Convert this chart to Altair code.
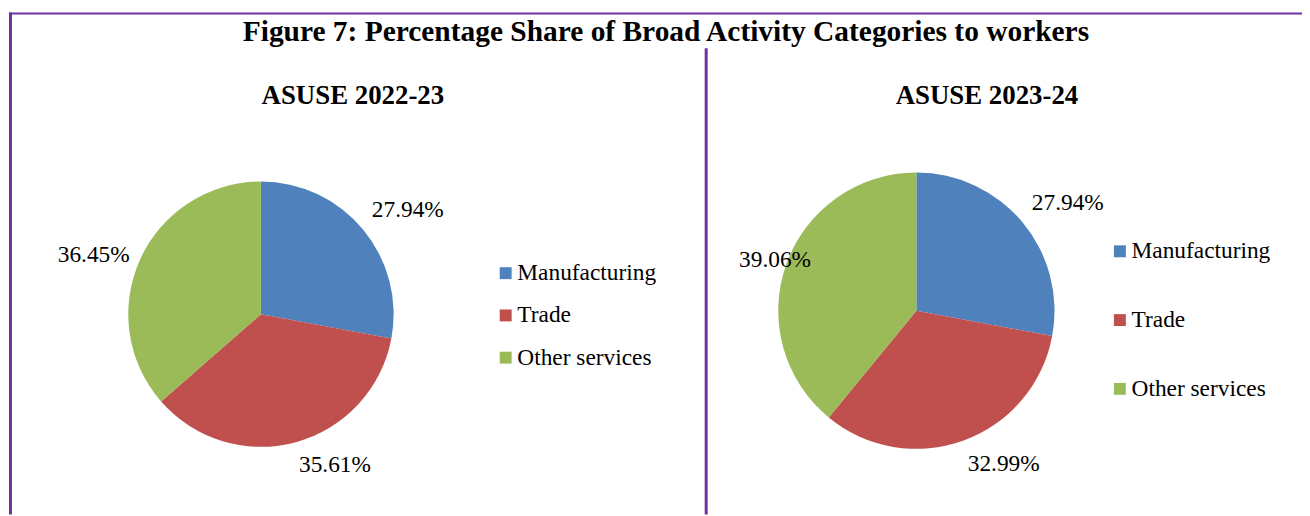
import altair as alt
import pandas as pd

categories = ["Manufacturing", "Trade", "Other services"]
share_2022_23 = [27.94, 35.61, 36.45]
share_2023_24 = [27.94, 32.99, 39.06]
colors = ["#4F81BD", "#C0504D", "#9BBB59"]
title_text = "Figure 7: Percentage Share of Broad Activity Categories to workers"
panel_titles = ["ASUSE 2022-23", "ASUSE 2023-24"]

FONT = "Liberation Serif"
PURPLE = "#7030A0"
one = pd.DataFrame({"a": [0]})

# label anchoring per slice (which side of the pie the label sits on)
styles_1 = [("left", "bottom"), ("left", "top"), ("right", "middle")]
styles_2 = [("left", "bottom"), ("left", "top"), ("center", "middle")]


def make_df(vals):
    return pd.DataFrame({
        "category": categories,
        "share": vals,
        "idx": list(range(len(vals))),
        "label": [f"{v:.2f}%" for v in vals],
    })


def pie(vals, cx, cy, r, label_r, lx, ly, row_pad, label_styles):
    df = make_df(vals)
    base = alt.Chart(df).encode(
        theta=alt.Theta("share:Q", stack=True),
        order=alt.Order("idx:Q"),
    )
    arcs = base.mark_arc(radius=r).encode(
        x=alt.value(cx), y=alt.value(cy),
        color=alt.Color(
            "category:N",
            scale=alt.Scale(domain=categories, range=colors),
            legend=alt.Legend(
                orient="none", legendX=lx, legendY=ly, title=None,
                direction="vertical",
                symbolType="square", symbolSize=144, symbolStrokeWidth=0,
                labelFont=FONT, labelFontSize=23.5, labelColor="black",
                labelOffset=0, rowPadding=row_pad, padding=0,
            ),
        ),
    )
    layers = [arcs]
    for i, (al, bl) in enumerate(label_styles):
        t = base.mark_text(
            radius=label_r, font=FONT, fontSize=23.5, color="black",
            align=al, baseline=bl,
        ).encode(
            x=alt.value(cx), y=alt.value(cy), text="label:N", detail="category:N",
            opacity=alt.condition(f"datum.idx == {i}", alt.value(1), alt.value(0)),
        )
        layers.append(t)
    return alt.layer(*layers)


def rule(x, x2, y, y2, w):
    return alt.Chart(one).mark_rule(color=PURPLE, strokeWidth=w).encode(
        x=alt.value(x), x2=alt.value(x2), y=alt.value(y), y2=alt.value(y2)
    )


def label(txt, x, y, size, weight):
    return alt.Chart(one).mark_text(
        text=txt, font=FONT, fontSize=size, fontWeight=weight, color="black",
        align="center", baseline="alphabetic",
    ).encode(x=alt.value(x), y=alt.value(y))


top_rule = rule(1, 1302, 3.9, 3.9, 2)
left_rule = rule(2.5, 2.5, 3, 508, 3)
div_rule = rule(702.5, 702.5, 39, 508, 3)

title = label(title_text, 662, 31.3, 29.6, "bold")
sub1 = label(panel_titles[0], 347, 95.5, 27, "bold")
sub2 = label(panel_titles[1], 985, 95.5, 27, "bold")

pie1 = pie(share_2022_23, 254.5, 306.5, 133.5, 145, 489, 253.5, 17.5, styles_1)
pie2 = pie(share_2023_24, 914, 303, 139, 151, 1107, 231.5, 44.2, styles_2)

chart = alt.layer(
    top_rule, left_rule, div_rule, title, sub1, sub2, pie1, pie2
).resolve_scale(theta="independent", color="independent").properties(
    width=1302, height=508, autosize=alt.AutoSizeParams(type="none"), padding=0,
).configure_view(stroke=None)

chart.save("out.html", embed_options={"renderer": "svg", "actions": False})
